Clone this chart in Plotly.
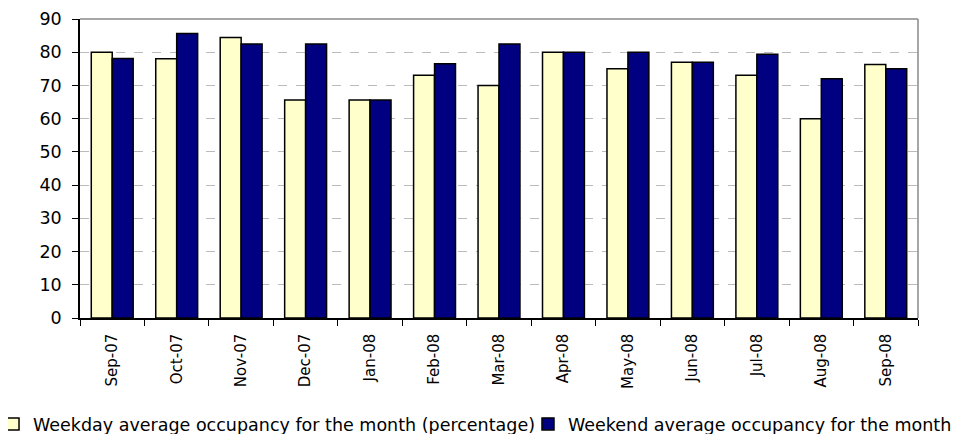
import plotly.graph_objects as go

months = ["Sep-07", "Oct-07", "Nov-07", "Dec-07", "Jan-08", "Feb-08", "Mar-08",
          "Apr-08", "May-08", "Jun-08", "Jul-08", "Aug-08", "Sep-08"]
weekday = [80, 78, 84.4, 65.6, 65.6, 73.1, 70, 80, 75, 77, 73.1, 60, 76.3]
weekend = [78.1, 85.6, 82.5, 82.5, 65.6, 76.5, 82.5, 80, 80, 77, 79.4, 72, 75]
y_ticks = list(range(0, 91, 10))

fig = go.Figure()
fig.add_trace(go.Bar(x=months, y=weekday,
                     name="Weekday average occupancy for the month (percentage)",
                     legend="legend",
                     marker=dict(color="#FFFFCC", line=dict(color="black", width=1.5))))
fig.add_trace(go.Bar(x=months, y=weekend,
                     name="Weekend average occupancy for the month",
                     legend="legend2",
                     marker=dict(color="#000080", line=dict(color="black", width=1.5))))

legend_common = dict(orientation="h", xref="paper", yref="container",
                     y=0.0, xanchor="left", yanchor="bottom",
                     font=dict(family="DejaVu Sans", size=17.5),
                     itemwidth=30, bgcolor="rgba(0,0,0,0)")

fig.update_layout(
    width=961, height=434,
    margin=dict(l=72, r=51, t=11, b=124, autoexpand=False),
    paper_bgcolor="white", plot_bgcolor="white",
    barmode="group", bargap=0.35, bargroupgap=0,
    font=dict(family="DejaVu Sans", size=14, color="black"),
    showlegend=True,
    legend=dict(x=-0.1038, **legend_common),
    legend2=dict(x=0.5346, **legend_common),
)
fig.update_yaxes(range=[0, 90], tickvals=y_ticks, showgrid=True,
                 gridcolor="#BBBBBB", griddash="dash", gridwidth=1,
                 showline=True, linecolor="black", linewidth=1.5,
                 ticks="outside", ticklen=6, tickcolor="black",
                 tickfont=dict(size=17.5), ticklabelstandoff=7,
                 ticklabeloverflow="allow",
                 mirror=False, zeroline=False, automargin=False)
fig.update_xaxes(showline=True, linecolor="black", linewidth=1.5,
                 ticks="outside", ticklen=6, tickcolor="black",
                 tickson="boundaries", tickangle=-90,
                 tickfont=dict(size=15), ticklabelstandoff=8,
                 ticklabeloverflow="allow",
                 showgrid=False, automargin=False)
# gray top/right frame
fig.add_shape(type="line", xref="paper", yref="paper", x0=0, x1=1, y0=1, y1=1,
              line=dict(color="#888888", width=1.5))
fig.add_shape(type="line", xref="paper", yref="paper", x0=1, x1=1, y0=0, y1=1,
              line=dict(color="#888888", width=1.5))

fig.write_html("out.html")
